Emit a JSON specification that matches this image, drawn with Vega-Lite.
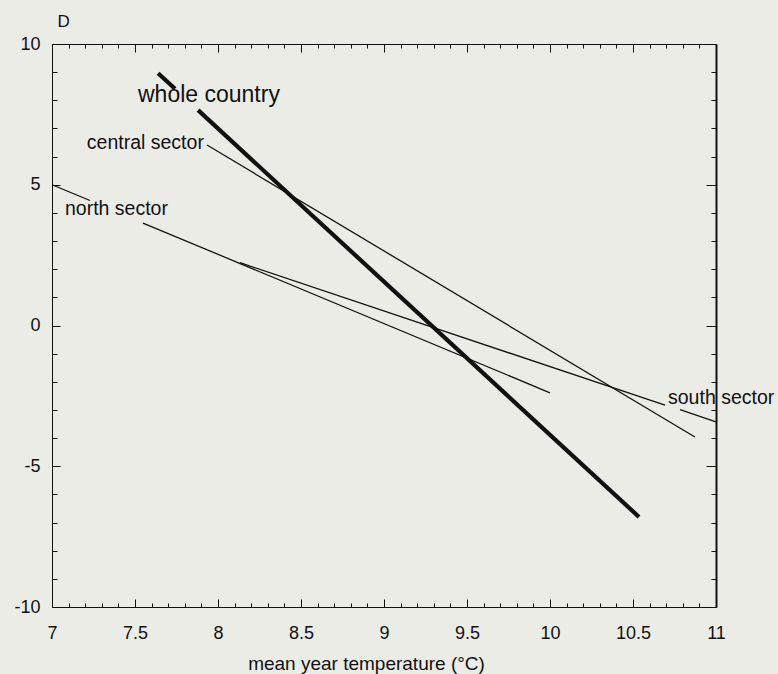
{
  "$schema": "https://vega.github.io/schema/vega-lite/v6.json",
  "width": 664,
  "height": 563,
  "autosize": {"type": "none"},
  "padding": {"left": 52, "top": 44, "right": 62, "bottom": 67},
  "background": "#ecece7",
  "config": {
    "view": {"stroke": null},
    "axis": {"grid": false, "domainColor": "#111111", "tickColor": "#111111", "labelColor": "#111111", "titleColor": "#111111", "labelFont": "Liberation Sans", "titleFont": "Liberation Sans", "labelFontSize": 18, "titleFontSize": 19, "titleFontWeight": "normal", "labelOverlap": false, "labelFlush": false, "labelBound": false, "tickWidth": 1, "domainWidth": 1}
  },
  "datasets": {
    "lines": [
      {"series": "whole country", "seg": "w1", "t": 7.639, "v": 8.96},
      {"series": "whole country", "seg": "w1", "t": 7.741, "v": 8.41},
      {"series": "whole country", "seg": "w2", "t": 7.88, "v": 7.65},
      {"series": "whole country", "seg": "w2", "t": 10.536, "v": -6.8},
      {"series": "central sector", "seg": "c1", "t": 7.934, "v": 6.41},
      {"series": "central sector", "seg": "c1", "t": 10.873, "v": -3.96},
      {"series": "north sector", "seg": "n1", "t": 7.0, "v": 5.0},
      {"series": "north sector", "seg": "n1", "t": 7.229, "v": 4.44},
      {"series": "north sector", "seg": "n2", "t": 7.548, "v": 3.64},
      {"series": "north sector", "seg": "n2", "t": 10.0, "v": -2.39},
      {"series": "south sector", "seg": "s1", "t": 8.133, "v": 2.23},
      {"series": "south sector", "seg": "s1", "t": 10.693, "v": -2.83},
      {"series": "south sector", "seg": "s2", "t": 10.783, "v": -2.99},
      {"series": "south sector", "seg": "s2", "t": 11.0, "v": -3.42}
    ],
    "labels": [
      {"label": "whole country", "t": 7.518, "v": 8.19},
      {"label": "central sector", "t": 7.915, "v": 6.48},
      {"label": "north sector", "t": 7.078, "v": 4.14},
      {"label": "south sector", "t": 10.711, "v": -2.575}
    ]
  },
  "layer": [
    {
      "data": {"name": "lines"},
      "transform": [{"filter": "datum.series != 'whole country'"}],
      "mark": {"type": "line", "color": "#111111", "strokeWidth": 1.3},
      "encoding": {
        "x": {"field": "t", "type": "quantitative", "scale": {"domain": [7, 11], "nice": false, "zero": false},
          "axis": {"orient": "bottom", "values": [7,7.1,7.2,7.3,7.4,7.5,7.6,7.7,7.8,7.9,8,8.1,8.2,8.3,8.4,8.5,8.6,8.7,8.8,8.9,9,9.1,9.2,9.3,9.4,9.5,9.6,9.7,9.8,9.9,10,10.1,10.2,10.3,10.4,10.5,10.6,10.7,10.8,10.9,11],
            "labelExpr": "abs(datum.value*2-round(datum.value*2))<0.001 ? '' + datum.value : ''",
            "tickSize": {"condition": {"test": "abs(datum.value*2-round(datum.value*2))<0.001", "value": -8}, "value": -4},
            "labelPadding": 25, "title": "mean year temperature (°C)", "titlePadding": 8, "titleX": 314, "titleAlign": "center"}},
        "y": {"field": "v", "type": "quantitative", "scale": {"domain": [-10, 10], "nice": false, "zero": false},
          "axis": {"orient": "left", "values": [-10,-9,-8,-7,-6,-5,-4,-3,-2,-1,0,1,2,3,4,5,6,7,8,9,10],
            "labelExpr": "datum.value % 5 == 0 ? '' + datum.value : ''",
            "tickSize": {"condition": {"test": "datum.value % 5 == 0", "value": -8}, "value": -5},
            "labelPadding": 20, "title": "D", "titleAngle": 0, "titleX": 5, "titleY": -23, "titleAlign": "left", "titleBaseline": "middle", "titleFontSize": 17}},
        "detail": {"field": "seg"}
      }
    },
    {
      "data": {"name": "lines"},
      "transform": [{"filter": "datum.series == 'whole country'"}],
      "mark": {"type": "line", "color": "#111111", "strokeWidth": 4.2},
      "encoding": {
        "x": {"field": "t", "type": "quantitative", "axis": null},
        "y": {"field": "v", "type": "quantitative", "axis": null},
        "detail": {"field": "seg"}
      }
    },
    {
      "data": {"name": "labels"},
      "transform": [{"filter": "datum.label == 'whole country'"}],
      "mark": {"type": "text", "align": "left", "baseline": "middle", "fontSize": 23, "font": "Liberation Sans", "color": "#111111"},
      "encoding": {
        "x": {"field": "t", "type": "quantitative", "axis": null},
        "y": {"field": "v", "type": "quantitative", "axis": null},
        "text": {"field": "label"}
      }
    },
    {
      "data": {"name": "labels"},
      "transform": [{"filter": "datum.label == 'central sector'"}],
      "mark": {"type": "text", "align": "right", "baseline": "middle", "fontSize": 19.5, "font": "Liberation Sans", "color": "#111111"},
      "encoding": {
        "x": {"field": "t", "type": "quantitative", "axis": null},
        "y": {"field": "v", "type": "quantitative", "axis": null},
        "text": {"field": "label"}
      }
    },
    {
      "data": {"name": "labels"},
      "transform": [{"filter": "datum.label == 'north sector' || datum.label == 'south sector'"}],
      "mark": {"type": "text", "align": "left", "baseline": "middle", "fontSize": 19.5, "font": "Liberation Sans", "color": "#111111"},
      "encoding": {
        "x": {"field": "t", "type": "quantitative",
          "axis": {"orient": "top", "values": [7,7.1,7.2,7.3,7.4,7.5,7.6,7.7,7.8,7.9,8,8.1,8.2,8.3,8.4,8.5,8.6,8.7,8.8,8.9,9,9.1,9.2,9.3,9.4,9.5,9.6,9.7,9.8,9.9,10,10.1,10.2,10.3,10.4,10.5,10.6,10.7,10.8,10.9,11],
            "labels": false, "title": null,
            "tickSize": {"condition": {"test": "abs(datum.value*2-round(datum.value*2))<0.001", "value": -8}, "value": -4}}},
        "y": {"field": "v", "type": "quantitative",
          "axis": {"orient": "right", "values": [-10,-9,-8,-7,-6,-5,-4,-3,-2,-1,0,1,2,3,4,5,6,7,8,9,10],
            "labels": false, "title": null, "domainWidth": 2,
            "tickSize": {"condition": {"test": "datum.value % 5 == 0", "value": -10}, "value": -5}}},
        "text": {"field": "label"}
      }
    }
  ],
  "resolve": {"axis": {"x": "independent", "y": "independent"}}
}
